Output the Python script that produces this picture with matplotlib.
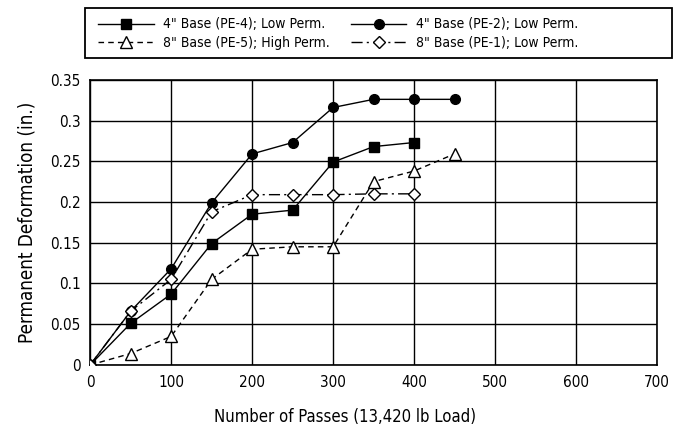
import matplotlib
matplotlib.use("Agg")
import matplotlib.pyplot as plt
from matplotlib.patches import Rectangle

plt.rcParams['font.family'] = ['DejaVu Sans']
plt.rcParams['font.stretch'] = 'condensed'

passes = [0, 50, 100, 150, 200, 250, 300, 350, 400, 450]

pe4 = [0.0, 0.051, 0.087, 0.149, 0.185, 0.190, 0.249, 0.268, 0.273]
pe2 = [0.0, 0.066, 0.118, 0.199, 0.259, 0.273, 0.316, 0.326, 0.326, 0.326]
pe5 = [0.0, 0.014, 0.035, 0.105, 0.142, 0.145, 0.145, 0.225, 0.238, 0.259]
pe1 = [0.0, 0.066, 0.105, 0.188, 0.209, 0.209, 0.209, 0.210, 0.210]

labels = ['4" Base (PE-4); Low Perm.', '8" Base (PE-5); High Perm.',
          '4" Base (PE-2); Low Perm.', '8" Base (PE-1); Low Perm.']

fig = plt.figure(figsize=(6.78, 4.36), dpi=100)
ax = fig.add_axes([0.133, 0.163, 0.836, 0.654])

lw = 1.0
h1, = ax.plot(passes[:len(pe4)], pe4, '-', color='black', lw=lw, marker='s',
              ms=6.8, mfc='black', mec='black', zorder=4)
h2, = ax.plot(passes[:len(pe2)], pe2, '-', color='black', lw=lw, marker='o',
              ms=7, mfc='black', mec='black', zorder=4)
h3, = ax.plot(passes[:len(pe5)], pe5, color='black', lw=lw, ls=(0, (4, 3)),
              marker='^', ms=8.5, mfc='white', mec='black', zorder=3)
h4, = ax.plot(passes[:len(pe1)], pe1, color='black', lw=lw, ls=(0, (8, 3, 1.5, 3)),
              marker='D', ms=6.5, mfc='white', mec='black', zorder=5)

ax.set_xlim(0, 700)
ax.set_ylim(0, 0.35)
ax.set_xticks(range(0, 701, 100))
ax.set_yticks([0, 0.05, 0.1, 0.15, 0.2, 0.25, 0.3, 0.35])
ax.set_yticklabels(['0', '0.05', '0.1', '0.15', '0.2', '0.25', '0.3', '0.35'])
ax.grid(True, color='black', lw=1.0)
ax.set_axisbelow(True)
for s in ax.spines.values():
    s.set_linewidth(1.2)
ax.tick_params(length=0, labelsize=11, pad=7)

ax.set_xlabel('Number of Passes (13,420 lb Load)', fontsize=12)
ax.xaxis.set_label_coords(0.45, -0.15)
ax.set_ylabel('Permanent Deformation (in.)', fontsize=13.5, labelpad=10)

# legend box drawn separately so it can be wider than its contents
fig.patches.append(Rectangle((0.1254, 0.867), 0.866, 0.1147, transform=fig.transFigure,
                             fill=False, edgecolor='black', lw=1.3))
leg = fig.legend([h1, h3, h2, h4], labels, loc='upper left',
                 bbox_to_anchor=(0.1445, 0.96), ncol=2, fontsize=10,
                 frameon=False, handlelength=4.0, handletextpad=0.7,
                 borderaxespad=0, borderpad=0, labelspacing=0.3,
                 columnspacing=1.5)

fig.savefig('out.png', dpi=100)
